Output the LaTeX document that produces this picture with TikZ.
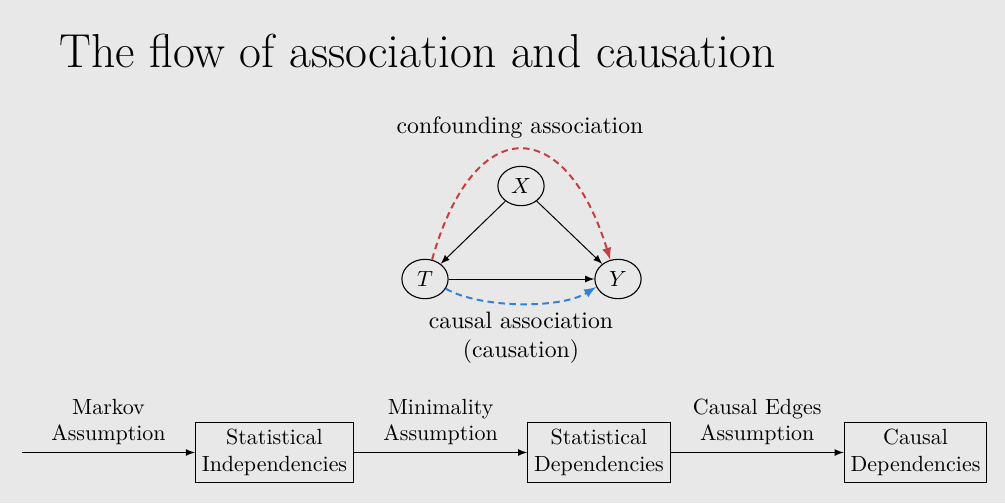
\documentclass[tikz,border=0pt]{standalone}
\usetikzlibrary{shapes.geometric, arrows, positioning}
\definecolor{slidebg}{RGB}{232,232,232}
\definecolor{confred}{RGB}{200,62,62}
\definecolor{causblue}{RGB}{52,128,218}
\tikzstyle{var} = [ellipse, minimum width=0.74cm, minimum height=0.63cm, inner sep=0pt, draw=black, line width=0.5pt]
\tikzstyle{stage} = [rectangle, align=center, text centered, inner xsep=2.9pt, draw=black, line width=0.5pt]
\tikzstyle{arrow} = [->, >=latex, line width=0.45pt]
\tikzstyle{confound} = [->, >=latex, color=confred, line width=0.9pt, dash pattern=on 3pt off 2pt]
\tikzstyle{causal} = [->, >=latex, color=causblue, line width=0.9pt, dash pattern=on 3pt off 2pt]
\tikzstyle{glabel} = [text=black, align=center, font=\fontsize{10.8}{13.2}\selectfont]

\begin{document}
\begin{tikzpicture}[x=0.016cm, y=-0.016cm]
    \fill[slidebg] (0,0) rectangle (1005,503);
    \node[anchor=base west, inner sep=0pt, font=\fontsize{21.7}{26}\selectfont] (title) at (59,67) {The flow of association and causation};

    % causal graph
    \node (X) [var] at (521,186) {$X$};
    \node (T) [var] at (425,279) {$T$};
    \node (Y) [var] at (618,279) {$Y$};

    \draw [arrow] (X) -- (T);
    \draw [arrow] (X) -- (Y);
    \draw [arrow] (T) -- (Y);
    \draw [confound] (T.70) .. controls +(42,-148) and +(-45,-146) .. (Y.112)
        node[pos=0.5, above, glabel, yshift=0.04cm] (conflabel) {confounding association};
    \draw [causal] (T.-25) .. controls +(35,20) and +(-35,22) .. (Y.-160)
        node[pos=0.5, below, glabel] (causlabel) {causal association\\(causation)};

    % assumptions chain
    \coordinate (start) at (22,452.5);
    \node (indep) [stage] at (274.5,452.5) {Statistical\\Independencies};
    \node (dep) [stage, right=2.77cm of indep] {Statistical\\Dependencies};
    \node (causdep) [stage, right=2.77cm of dep] {Causal\\Dependencies};

    \draw [arrow] (start) -- node[above, align=center] (markov) {Markov\\Assumption} (indep);
    \draw [arrow] (indep) -- node[above, align=center] (minimal) {Minimality\\Assumption} (dep);
    \draw [arrow] (dep) -- node[above, align=center] (edges) {Causal Edges\\Assumption} (causdep);
\end{tikzpicture}
\end{document}
